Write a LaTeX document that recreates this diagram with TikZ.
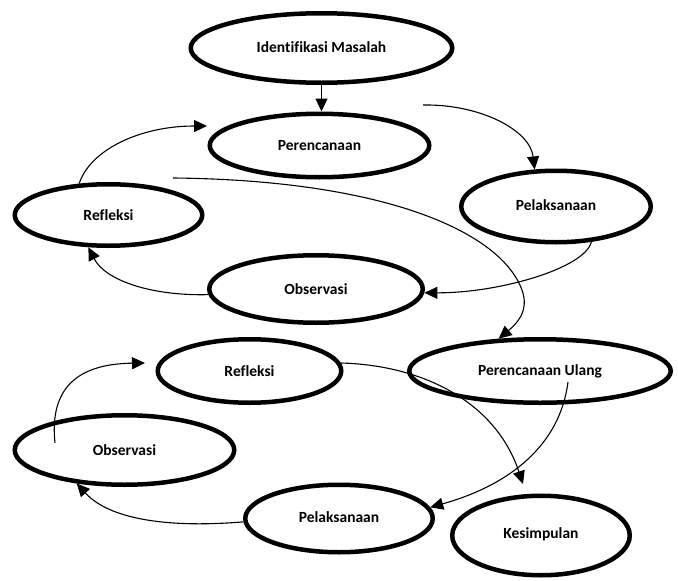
\documentclass[tikz,border=0pt]{standalone}
\usepackage{fontspec}
\setmainfont{Carlito}[Ligatures=NoCommon]
\usetikzlibrary{shapes.geometric,arrows.meta}
\begin{document}
\begin{tikzpicture}[x=1pt,y=-1pt,
  stage/.style={ellipse,draw,line width=4.5pt,inner sep=0pt,
    font=\fontsize{15.5}{18}\selectfont\bfseries},
  flow/.style={line width=1.1pt,-{Triangle[length=13pt,width=12pt]}}]
\useasboundingbox (0,0) rectangle (678,581);
% stages
\node[stage,minimum width=261.5pt,minimum height=69.5pt] (idm) at (321.5,48) {\raisebox{2pt}{Identifikasi Masalah}};
\node[stage,minimum width=219.5pt,minimum height=63.5pt] (per) at (319.5,145.5) {Perencanaan};
\node[stage,minimum width=189.5pt,minimum height=71.5pt] (pel1) at (556,206.5) {\raisebox{2pt}{Pelaksanaan}};
\node[stage,minimum width=187.5pt,minimum height=61.5pt] (ref1) at (108.5,215) {Refleksi};
\node[stage,minimum width=213.5pt,minimum height=67.5pt] (obs1) at (316,289) {Observasi};
\node[stage,minimum width=183.5pt,minimum height=63.5pt] (ref2) at (249.5,371) {Refleksi};
\node[stage,minimum width=261.5pt,minimum height=63.5pt] (pu) at (540,371) {Perencanaan Ulang};
\node[stage,minimum width=219.5pt,minimum height=69.5pt] (obs2) at (124.5,450) {Observasi};
\node[stage,minimum width=187.5pt,minimum height=67.5pt] (pel2) at (339,518.5) {\raisebox{3pt}{Pelaksanaan}};
\node[stage,minimum width=177.5pt,minimum height=79.5pt] (kes) at (541,535.5) {\raisebox{4pt}{Kesimpulan}};
% free ends
\coordinate (c1) at (423,105);
\coordinate (c2) at (207,126);
\coordinate (c3) at (173,178);
\coordinate (c4) at (55,443);
\coordinate (c5) at (145,363);
\coordinate (c6) at (523,484);
\coordinate (c7) at (568,382);
% connectors
\draw[flow] (idm.south) -- (idm.south |- per.north);
\draw[flow] (c1) .. controls (480,104) and (530,130) .. (pel1.120);
\draw[flow] (pel1.-45) .. controls (585,268) and (500,293) .. (obs1.-2);
\draw[flow] (obs1.183) .. controls (150,296) and (105,280) .. (ref1.-122);
\draw[flow] (ref1.133) .. controls (90,150) and (140,126) .. (c2);
\draw[flow] (c3) .. controls (380,180) and (500,230) .. (522,290)
  .. controls (530,312) and (515,325) .. (pu.142);
\draw[flow] (c4) .. controls (50,395) and (70,364) .. (c5);
\draw[flow] (pel2.182) .. controls (170,528) and (110,520) .. (obs2.-145);
\draw[flow] (ref2.5) .. controls (420,365) and (495,400) .. (c6);
\draw[flow] (c7) .. controls (560,445) and (510,485) .. (pel2.7);
\end{tikzpicture}
\end{document}
